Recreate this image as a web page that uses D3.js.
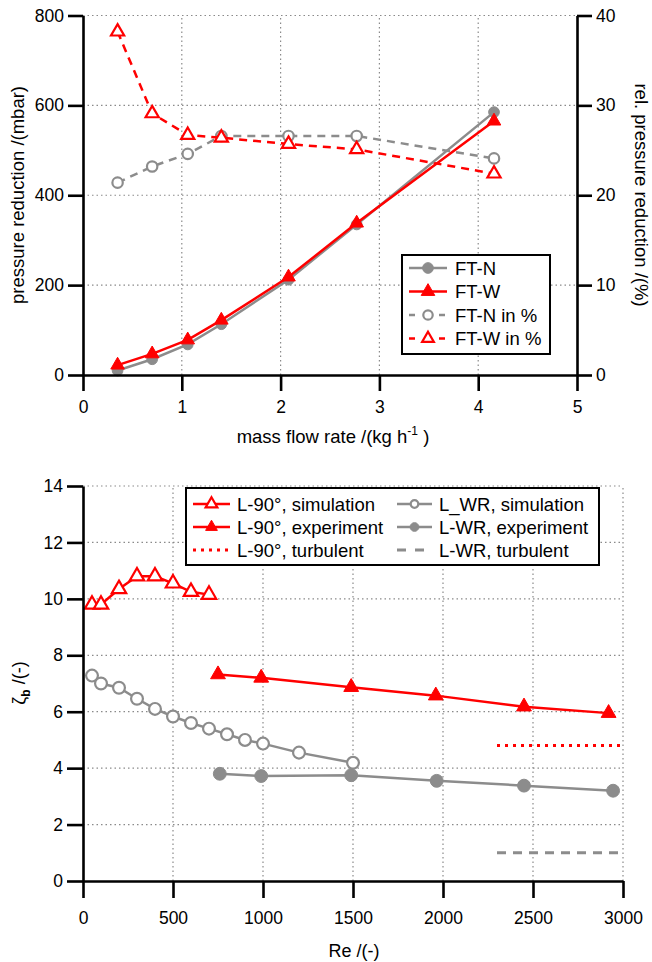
<!DOCTYPE html>
<html>
<head>
<meta charset="utf-8">
<script src="https://cdn.jsdelivr.net/npm/d3@7"></script>
<style>
  body { margin: 0; background: #fff; }
  svg { font-family: "Liberation Sans", Arial, sans-serif; }
  .grid line { stroke: #8a8a8a; stroke-width: 1.2; stroke-dasharray: 1.5,3; }
  .axis path, .axis line { stroke: #000; stroke-width: 2.6; }
  .axis text { font-size: 17.5px; fill: #000; }
</style>
</head>
<body>
<svg id="chart" width="652" height="962"></svg>
<script>
// top chart data
var flowRate = [0.35, 0.70, 1.06, 1.40, 2.08, 2.77, 4.16];
var ftN = [10, 35, 68, 113, 212, 335, 585];
var ftW = [22, 47, 78, 122, 218, 338, 565];
var ftNPct = [21.4, 23.2, 24.6, 26.6, 26.6, 26.6, 24.1];
var ftWPct = [38.2, 29.1, 26.7, 26.4, 25.7, 25.1, 22.4];
var flowTicks = [0, 1, 2, 3, 4, 5];
var mbarTicks = [0, 200, 400, 600, 800];
var pctTicks = [0, 10, 20, 30, 40];

// bottom chart data
var reL90Sim = [50, 100, 200, 300, 400, 500, 600, 700];
var l90Sim = [9.8, 9.8, 10.35, 10.8, 10.8, 10.55, 10.25, 10.15];
var reWrSim = [50, 100, 200, 300, 400, 500, 600, 700, 800, 900, 1000, 1200, 1500];
var wrSim = [7.28, 7.0, 6.85, 6.46, 6.1, 5.83, 5.6, 5.4, 5.2, 5.0, 4.87, 4.55, 4.19];
var reL90Exp = [750, 990, 1490, 1960, 2450, 2920];
var l90Exp = [7.32, 7.2, 6.87, 6.57, 6.18, 5.95];
var reWrExp = [760, 990, 1490, 1965, 2450, 2945];
var wrExp = [3.8, 3.72, 3.75, 3.55, 3.38, 3.2];
var reTurb = [2300, 3000];
var l90Turb = [4.8, 4.8];
var wrTurb = [1.0, 1.0];
var reTicks = [0, 500, 1000, 1500, 2000, 2500, 3000];
var zetaTicks = [0, 2, 4, 6, 8, 10, 12, 14];

var RED = "#ff0000", GRAY = "#8c8c8c";
var fmt = d3.format("d");
var svg = d3.select("#chart");

function zip(xs, ys) { return xs.map(function(x, i) { return [x, ys[i]] }) }

function drawSeries(g, x, y, pts, o) {
  var line = d3.line().x(function(d) { return x(d[0]) }).y(function(d) { return y(d[1]) });
  g.append("path")
    .attr("d", line(pts))
    .attr("fill", "none")
    .attr("stroke", o.color)
    .attr("stroke-width", o.width || 2.5)
    .attr("stroke-dasharray", o.dash || null);
  if (!o.marker) return;
  g.selectAll(null)
    .data(pts)
    .enter().append("path")
      .attr("transform", function(d) { return "translate(" + x(d[0]) + "," + y(d[1]) + ")" })
      .call(marker, o);
}

function marker(sel, o) {
  var type = o.marker == "tri" ? d3.symbolTriangle : d3.symbolCircle;
  sel.attr("d", d3.symbol().type(type).size(o.size || 80)())
    .attr("fill", o.open ? "#fff" : o.color)
    .attr("stroke", o.color)
    .attr("stroke-width", o.open ? 2.2 : 1);
}

// ---------- top chart ----------
(function() {
  var x = d3.scaleLinear().domain([0, 5]).range([83, 577]);
  var y = d3.scaleLinear().domain([0, 800]).range([375, 15.5]);
  var y2 = d3.scaleLinear().domain([0, 40]).range([375, 15.5]);
  var g = svg.append("g");

  g.append("g").attr("class", "grid")
    .selectAll("line").data(flowTicks.slice(1, -1)).enter().append("line")
      .attr("x1", x).attr("x2", x).attr("y1", y(0)).attr("y2", y(800));
  g.append("g").attr("class", "grid")
    .selectAll("line").data(mbarTicks.slice(1)).enter().append("line")
      .attr("x1", x(0)).attr("x2", x(5)).attr("y1", y).attr("y2", y);

  drawSeries(g, x, y2, zip(flowRate, ftNPct), {color: GRAY, dash: "8,6", marker: "circle", open: true, size: 85});
  drawSeries(g, x, y2, zip(flowRate, ftWPct), {color: RED, dash: "8,6", marker: "tri", open: true, size: 75});
  drawSeries(g, x, y, zip(flowRate, ftN), {color: GRAY, marker: "circle", size: 90});
  drawSeries(g, x, y, zip(flowRate, ftW), {color: RED, marker: "tri", size: 80});

  g.append("g").attr("class", "axis")
    .attr("transform", "translate(0," + y(0) + ")")
    .call(d3.axisBottom(x).tickValues(flowTicks).tickFormat(fmt).tickSize(16).tickSizeOuter(0).tickPadding(10));
  g.append("g").attr("class", "axis")
    .attr("transform", "translate(" + x(0) + ",0)")
    .call(d3.axisLeft(y).tickValues(mbarTicks).tickFormat(fmt).tickSize(15).tickSizeOuter(0).tickPadding(4));
  g.append("g").attr("class", "axis")
    .attr("transform", "translate(" + x(5) + ",0)")
    .call(d3.axisRight(y2).tickValues(pctTicks).tickFormat(fmt).tickSize(15).tickSizeOuter(0).tickPadding(4));

  var xt = g.append("text").attr("x", 333).attr("y", 443)
    .attr("text-anchor", "middle").style("font-size", "18.5px");
  xt.append("tspan").text("mass flow rate /(kg h");
  xt.append("tspan").text("-1").attr("dy", -8).style("font-size", "12px");
  xt.append("tspan").text(" )").attr("dy", 8);

  g.append("text").attr("transform", "translate(24,195) rotate(-90)")
    .attr("text-anchor", "middle").style("font-size", "18.5px")
    .text("pressure reduction /(mbar)");
  g.append("text").attr("transform", "translate(635,195) rotate(90)")
    .attr("text-anchor", "middle").style("font-size", "18.5px")
    .text("rel. pressure reduction /(%)");

  // legend
  var lg = g.append("g");
  lg.append("rect").attr("x", 402).attr("y", 255).attr("width", 148).attr("height", 99)
    .attr("fill", "#fff").attr("stroke", "#000").attr("stroke-width", 2);
  var items = [
    {label: "FT-N", color: GRAY, marker: "circle", size: 90},
    {label: "FT-W", color: RED, marker: "tri", size: 80},
    {label: "FT-N in %", color: GRAY, marker: "circle", open: true, dash: "6,9", size: 70},
    {label: "FT-W in %", color: RED, marker: "tri", open: true, dash: "6,9", size: 60}
  ];
  items.forEach(function(it, i) {
    var yy = 268 + i * 23.5;
    lg.append("line").attr("x1", 409).attr("x2", 447).attr("y1", yy).attr("y2", yy)
      .attr("stroke", it.color).attr("stroke-width", 2.5).attr("stroke-dasharray", it.dash || null);
    lg.append("path").attr("transform", "translate(428," + yy + ")").call(marker, it);
    lg.append("text").attr("x", 455).attr("y", yy + 6.5).style("font-size", "18.5px").text(it.label);
  });
})();

// ---------- bottom chart ----------
(function() {
  var x = d3.scaleLinear().domain([0, 3000]).range([83, 623]);
  var y = d3.scaleLinear().domain([0, 14]).range([881, 486]);
  var g = svg.append("g");

  g.append("g").attr("class", "grid")
    .selectAll("line").data(reTicks.slice(1)).enter().append("line")
      .attr("x1", x).attr("x2", x).attr("y1", y(0)).attr("y2", y(14));
  g.append("g").attr("class", "grid")
    .selectAll("line").data(zetaTicks.slice(1)).enter().append("line")
      .attr("x1", x(0)).attr("x2", x(3000)).attr("y1", y).attr("y2", y);

  drawSeries(g, x, y, zip(reTurb, l90Turb), {color: RED, dash: "3,5", width: 3});
  drawSeries(g, x, y, zip(reTurb, wrTurb), {color: GRAY, dash: "9,7", width: 3});
  drawSeries(g, x, y, zip(reWrSim, wrSim), {color: GRAY, marker: "circle", open: true, size: 110});
  drawSeries(g, x, y, zip(reWrExp, wrExp), {color: GRAY, marker: "circle", size: 130});
  drawSeries(g, x, y, zip(reL90Exp, l90Exp), {color: RED, marker: "tri", size: 95});
  drawSeries(g, x, y, zip(reL90Sim, l90Sim), {color: RED, marker: "tri", open: true, size: 90});

  g.append("g").attr("class", "axis")
    .attr("transform", "translate(0," + y(0) + ")")
    .call(d3.axisBottom(x).tickValues(reTicks).tickFormat(fmt).tickSize(17).tickSizeOuter(0).tickPadding(14));
  g.append("g").attr("class", "axis")
    .attr("transform", "translate(" + x(0) + ",0)")
    .call(d3.axisLeft(y).tickValues(zetaTicks).tickFormat(fmt).tickSize(16).tickSizeOuter(0).tickPadding(4));

  g.append("text").attr("x", 354).attr("y", 957)
    .attr("text-anchor", "middle").style("font-size", "18px").text("Re /(-)");
  var yt = g.append("text").attr("transform", "translate(25,683) rotate(-90)")
    .attr("text-anchor", "middle").style("font-size", "18px");
  yt.append("tspan").text("ζ");
  yt.append("tspan").text("b").attr("dy", 5).style("font-size", "12px").style("font-weight", "bold");
  yt.append("tspan").text(" /(-)").attr("dy", -5);

  // legend
  var lg = g.append("g");
  lg.append("rect").attr("x", 186).attr("y", 488).attr("width", 413).attr("height", 77)
    .attr("fill", "#fff").attr("stroke", "#000").attr("stroke-width", 2);
  var items = [
    {label: "L-90°, simulation", color: RED, marker: "tri", open: true, size: 60, col: 0},
    {label: "L-90°, experiment", color: RED, marker: "tri", size: 60, col: 0},
    {label: "L-90°, turbulent", color: RED, dash: "3,5", width: 3, col: 0},
    {label: "L_WR, simulation", color: GRAY, marker: "circle", open: true, size: 45, col: 1},
    {label: "L-WR, experiment", color: GRAY, marker: "circle", size: 60, col: 1},
    {label: "L-WR, turbulent", color: GRAY, dash: "9,9", width: 3, col: 1}
  ];
  items.forEach(function(it, i) {
    var yy = 504 + (i % 3) * 23;
    var x0 = it.col ? 397 : 193, x1 = it.col ? 432 : 230, tx = it.col ? 439 : 237;
    lg.append("line").attr("x1", x0).attr("x2", x1).attr("y1", yy).attr("y2", yy)
      .attr("stroke", it.color).attr("stroke-width", it.width || 2.5)
      .attr("stroke-dasharray", it.dash || null);
    if (it.marker)
      lg.append("path").attr("transform", "translate(" + (x0 + x1) / 2 + "," + yy + ")").call(marker, it);
    lg.append("text").attr("x", tx).attr("y", yy + 6.5).style("font-size", "18.5px").text(it.label);
  });
})();
</script>
</body>
</html>
